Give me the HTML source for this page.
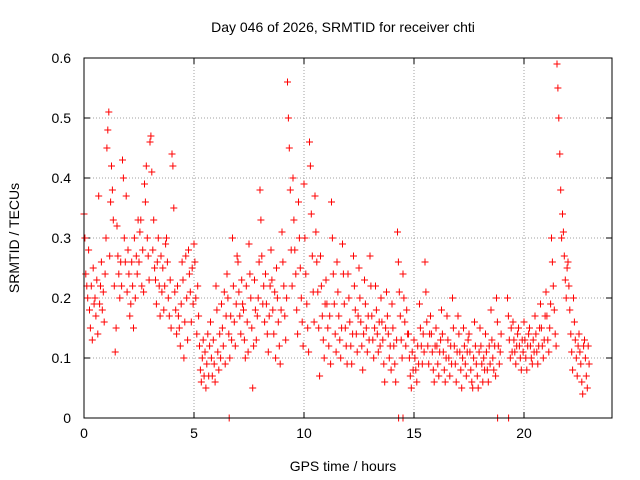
<!DOCTYPE html>
<html><head><meta charset="utf-8"><style>
body{margin:0;background:#fff;}
svg{display:block;font-family:"Liberation Sans",sans-serif;}
</style></head><body>
<svg id="chart" width="640" height="480" viewBox="0 0 640 480">
<text x="343" y="32" font-size="14" text-anchor="middle">Day 046 of 2026, SRMTID for receiver chti</text>
<g id="grid"></g>
<g id="axes"></g>
<g id="marks"></g>
<rect x="84" y="58" width="528" height="360" fill="none" stroke="#000" stroke-width="1"/>
<text x="343" y="471" font-size="14" text-anchor="middle">GPS time / hours</text>
<text x="19" y="238" font-size="14" text-anchor="middle" transform="rotate(-90 19 238)">SRMTID / TECUs</text>
</svg>
<script>
const xTicks=[0,5,10,15,20];
const yTicks=[0,0.1,0.2,0.3,0.4,0.5,0.6];
const yTickLabels=["0","0.1","0.2","0.3","0.4","0.5","0.6"];
const binHours=[0,0.25,0.5,0.75,1,1.25,1.5,1.75,2,2.25,2.5,2.75,3,3.25,3.5,3.75,4,4.25,4.5,4.75,5,5.25,5.5,5.75,6,6.25,6.5,6.75,7,7.25,7.5,7.75,8,8.25,8.5,8.75,9,9.25,9.5,9.75,10,10.25,10.5,10.75,11,11.25,11.5,11.75,12,12.25,12.5,12.75,13,13.25,13.5,13.75,14,14.25,14.5,14.75,15,15.25,15.5,15.75,16,16.25,16.5,16.75,17,17.25,17.5,17.75,18,18.25,18.5,18.75,19.25,19.5,19.75,20,20.25,20.5,20.75,21,21.25,21.5,21.75,22,22.25,22.5,22.75];
const binValues=[
[0.34,0.30,0.24,0.22,0.20,0.28],[0.18,0.15,0.22,0.13,0.25,0.19],[0.20,0.17,0.23,0.14,0.37,0.19],[0.22,0.26,0.18,0.21,0.16,0.24],
[0.30,0.45,0.48,0.51,0.27,0.36],[0.42,0.38,0.33,0.22,0.11,0.15],[0.32,0.27,0.24,0.20,0.26,0.22],[0.43,0.40,0.30,0.26,0.37,0.21],
[0.28,0.24,0.17,0.19,0.26,0.22],[0.15,0.30,0.20,0.27,0.24,0.33],[0.26,0.31,0.33,0.22,0.28,0.21],[0.39,0.36,0.42,0.30,0.27,0.23],
[0.46,0.47,0.41,0.28,0.33,0.25],[0.23,0.19,0.26,0.30,0.22,0.17],[0.27,0.21,0.25,0.18,0.22,0.29],[0.30,0.26,0.20,0.17,0.23,0.15],
[0.44,0.42,0.35,0.21,0.18,0.14],[0.22,0.17,0.15,0.12,0.19,0.26],[0.23,0.10,0.16,0.27,0.20,0.13],[0.28,0.24,0.21,0.16,0.25,0.19],
[0.29,0.26,0.20,0.14,0.22,0.17],[0.12,0.08,0.06,0.10,0.13,0.07],[0.11,0.05,0.09,0.14,0.07,0.12],[0.16,0.10,0.07,0.13,0.09,0.06],
[0.22,0.18,0.11,0.08,0.14,0.10],[0.19,0.15,0.12,0.21,0.09,0.17],[0.24,0.20,0.14,0.10,0.17,0.13],[0.30,0.22,0.16,0.12,0.19,0.27],
[0.26,0.21,0.17,0.14,0.23,0.19],[0.18,0.13,0.10,0.22,0.16,0.11],[0.29,0.24,0.20,0.15,0.05,0.12],[0.23,0.18,0.13,0.17,0.20,0.26],
[0.38,0.33,0.27,0.19,0.22,0.16],[0.24,0.19,0.14,0.11,0.17,0.22],[0.28,0.23,0.18,0.14,0.21,0.10],[0.25,0.20,0.16,0.12,0.09,0.18],
[0.31,0.26,0.22,0.17,0.13,0.20],[0.56,0.50,0.45,0.38,0.28,0.22],[0.40,0.33,0.28,0.24,0.18,0.14],[0.36,0.30,0.25,0.20,0.16,0.12],
[0.39,0.30,0.24,0.19,0.15,0.11],[0.46,0.42,0.34,0.27,0.21,0.16],[0.37,0.31,0.26,0.21,0.15,0.07],[0.27,0.22,0.17,0.13,0.10,0.19],
[0.23,0.19,0.15,0.12,0.17,0.09],[0.36,0.30,0.24,0.19,0.14,0.11],[0.26,0.21,0.17,0.13,0.10,0.15],[0.29,0.24,0.19,0.15,0.12,0.09],
[0.24,0.20,0.16,0.12,0.09,0.14],[0.27,0.22,0.18,0.14,0.11,0.17],[0.25,0.20,0.16,0.12,0.08,0.14],[0.23,0.19,0.15,0.11,0.17,0.13],
[0.27,0.22,0.17,0.13,0.10,0.15],[0.22,0.18,0.14,0.11,0.16,0.12],[0.20,0.16,0.13,0.09,0.06,0.15],[0.21,0.17,0.14,0.10,0.12,0.08],
[0.19,0.15,0.12,0.09,0.06,0.13],[0.31,0.26,0.21,0.17,0.13,0.10],[0.24,0.20,0.16,0.12,0.18,0.14],[0.14,0.10,0.07,0.05,0.11,0.08],
[0.13,0.10,0.08,0.06,0.12,0.09],[0.19,0.15,0.12,0.09,0.14,0.11],[0.26,0.21,0.16,0.12,0.09,0.14],[0.17,0.14,0.11,0.08,0.06,0.12],
[0.15,0.12,0.09,0.07,0.11,0.13],[0.18,0.14,0.11,0.08,0.06,0.10],[0.17,0.13,0.10,0.07,0.12,0.09],[0.20,0.15,0.12,0.09,0.06,0.11],
[0.17,0.14,0.11,0.08,0.05,0.10],[0.15,0.12,0.09,0.07,0.11,0.13],[0.14,0.11,0.08,0.06,0.05,0.10],[0.16,0.12,0.09,0.07,0.05,0.11],
[0.15,0.12,0.09,0.06,0.10,0.08],[0.14,0.11,0.08,0.06,0.12,0.09],[0.18,0.13,0.10,0.08,0.12,0.07],[0.20,0.16,0.12,0.09,0.11,0.14],
[0.20,0.17,0.13,0.10,0.15,0.11],[0.16,0.13,0.11,0.09,0.12,0.14],[0.15,0.12,0.10,0.08,0.13,0.11],[0.16,0.13,0.10,0.08,0.12,0.14],
[0.15,0.12,0.10,0.09,0.13,0.11],[0.17,0.14,0.11,0.09,0.12,0.15],[0.19,0.15,0.12,0.10,0.13,0.17],[0.21,0.17,0.13,0.11,0.15,0.19],
[0.30,0.26,0.22,0.18,0.14,0.12],[0.59,0.55,0.50,0.44,0.38,0.30],[0.34,0.31,0.27,0.23,0.20,0.25],[0.26,0.22,0.18,0.14,0.11,0.08],
[0.20,0.16,0.13,0.10,0.07,0.12],[0.14,0.11,0.09,0.06,0.04,0.12],[0.13,0.10,0.07,0.05,0.12,0.09]];
const zeroHours=[6.6,14.3,14.5,18.8,19.3];

const X0=84,X1=612,Y0=418,Y1=58,XMAX=24,YMAX=0.6;
function xs(h){return X0+(X1-X0)*h/XMAX;}
function ys(v){return Y0-(Y0-Y1)*v/YMAX;}
const NS="http://www.w3.org/2000/svg";
function mk(tag,attrs,parent){const e=document.createElementNS(NS,tag);for(const k in attrs)e.setAttribute(k,attrs[k]);parent.appendChild(e);return e;}
const grid=document.getElementById('grid'),axes=document.getElementById('axes'),marks=document.getElementById('marks');
xTicks.forEach(t=>{
  const x=xs(t);
  if(t>0){const g=mk('line',{x1:x,y1:Y1,x2:x,y2:Y0,stroke:'#a0a0a0','stroke-dasharray':'1,2'},grid);
  
  }
  mk('line',{x1:x,y1:Y0,x2:x,y2:Y0-6,stroke:'#000'},axes);
  mk('line',{x1:x,y1:Y1,x2:x,y2:Y1+6,stroke:'#000'},axes);
  const l=mk('text',{x:x,y:Y0+20,'font-size':'14','text-anchor':'middle'},axes);
  l.textContent=t;
  
  
});
yTicks.forEach((t,i)=>{
  const y=ys(t);
  if(i>0&&i<yTicks.length-1){const g=mk('line',{x1:X0,y1:y,x2:X1,y2:y,stroke:'#a0a0a0','stroke-dasharray':'1,2'},grid);
  
  }
  mk('line',{x1:X0,y1:y,x2:X0+6,y2:y,stroke:'#000'},axes);
  mk('line',{x1:X1,y1:y,x2:X1-6,y2:y,stroke:'#000'},axes);
  const l=mk('text',{x:X0-13,y:y+5,'font-size':'14','text-anchor':'end'},axes);
  l.textContent=yTickLabels[i];
  
  
});
let d='';
function plus(h,v){const x=xs(h),y=ys(v);d+=`M${(x-3.5).toFixed(1)} ${y.toFixed(1)}h7M${x.toFixed(1)} ${(y-3.5).toFixed(1)}v7`;}
binHours.forEach((h,i)=>{binValues[i].forEach((v,k)=>plus(h+k*0.042,v));});
zeroHours.forEach(h=>plus(h,0));
const p=mk('path',{d:d,stroke:'#ff0000','stroke-width':'1',fill:'none'},marks);


</script>
</body></html>
